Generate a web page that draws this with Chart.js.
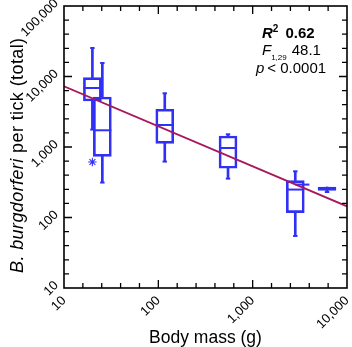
<!DOCTYPE html>
<html><head><meta charset="utf-8">
<script src="https://cdn.jsdelivr.net/npm/chart.js@4/dist/chart.umd.min.js"></script>
<style>html,body{margin:0;padding:0;background:#fff}</style>
</head><body>
<canvas id="c" width="352" height="347"></canvas>
<script>
// ---- data ----
const groupMass   = [20, 25.5, 117, 548, 2830, 6140];
const whiskerLow  = [1766, 313, 621, 356, 54.7, 230];
const q1          = [4490, 738, 1128, 499, 117, 243];
const median      = [6870, 1726, 2051, 968, 249, 257];
const q3          = [9640, 5120, 3427, 1432, 334, 271];
const whiskerHigh = [25350, 15540, 5780, 1514, 452, 271];
const outlierMass  = [20];
const outlierCount = [613];
const extraMass  = [3365];
const extraCount = [293];
const fitMass  = [10, 10000];
const fitCount = [7260, 144];
const xTickValues = [10, 100, 1000, 10000];
const xTickLabels = ['10', '100', '1,000', '10,000'];
const yTickValues = [10, 100, 1000, 10000, 100000];
const yTickLabels = ['10', '100', '1,000', '10,000', '100,000'];
const statR2 = '0.62', statF = '48.1', statDf = '1,29', statP = '< 0.0001';
const xTitle = 'Body mass (g)';
const yTitleItalic = 'B. burgdorferi', yTitleRest = ' per tick (total)';

// ---- styles ----
const BLUE = '#3030f6';
const FITC = '#a8185c';
const FONT = "'Liberation Sans', Arial, Helvetica, sans-serif";

const boxData = groupMass.map((m, i) => ({x: m, y: [q1[i], q3[i]]}));
const lowData = groupMass.map((m, i) => ({x: m, y: [whiskerLow[i], q1[i]]}));
const highData = groupMass.map((m, i) => ({x: m, y: [q3[i], whiskerHigh[i]]}));
const medData = groupMass.map((m, i) => ({x: m, y: median[i]}));
const capData = [];
groupMass.forEach((m, i) => {
  if (whiskerLow[i] < q1[i]) capData.push({x: m, y: whiskerLow[i]});
  if (whiskerHigh[i] > q3[i]) capData.push({x: m, y: whiskerHigh[i]});
});

const framePlugin = {
  id: 'frame',
  afterDatasetsDraw(chart) {
    const {ctx, chartArea: a, scales: {x, y}} = chart;
    ctx.save();
    ctx.strokeStyle = '#000';
    ctx.lineWidth = 1.3;
    ctx.beginPath();
    for (let e = 1; e < 4; e++) for (let j = 0; j < 5; j++) {
      if (e === 1 && j === 0) continue;
      const px = x.getPixelForValue(Math.pow(10, e + j / 5));
      const L = j === 0 ? 8 : 5;
      ctx.moveTo(px, a.bottom); ctx.lineTo(px, a.bottom - L);
      ctx.moveTo(px, a.top); ctx.lineTo(px, a.top + L);
    }
    for (let e = 1; e < 5; e++) for (let j = 0; j < 5; j++) {
      if (e === 1 && j === 0) continue;
      const py = y.getPixelForValue(Math.pow(10, e + j / 5));
      const L = j === 0 ? 8 : 5;
      ctx.moveTo(a.left, py); ctx.lineTo(a.left + L, py);
      ctx.moveTo(a.right, py); ctx.lineTo(a.right - L, py);
    }
    ctx.stroke();
    ctx.lineWidth = 1.6;
    ctx.strokeRect(a.left, a.top, a.right - a.left, a.bottom - a.top);
    ctx.restore();
  },
  afterDraw(chart) {
    const {ctx, chartArea: a} = chart;
    ctx.save();
    ctx.fillStyle = '#000';
    ctx.textBaseline = 'alphabetic';
    // x title
    ctx.font = '17.5px ' + FONT;
    ctx.textAlign = 'center';
    ctx.fillText(xTitle, (a.left + a.right) / 2, 343);
    // y title
    ctx.save();
    ctx.translate(22.5, 273);
    ctx.rotate(-Math.PI / 2);
    ctx.textAlign = 'left';
    ctx.letterSpacing = '0.4px';
    ctx.font = 'italic 18px ' + FONT;
    ctx.fillText(yTitleItalic, 0, 0);
    const w1 = ctx.measureText(yTitleItalic).width;
    ctx.font = '18px ' + FONT;
    ctx.fillText(yTitleRest, w1, 0);
    ctx.restore();
    // stats
    ctx.letterSpacing = '0px';
    ctx.textAlign = 'left';
    let xx = 262;
    ctx.font = 'italic bold 15px ' + FONT;
    ctx.fillText('R', xx, 37.5);
    xx += ctx.measureText('R').width;
    ctx.font = 'bold 10px ' + FONT;
    ctx.fillText('2', xx, 32);
    xx += ctx.measureText('2').width + 7;
    ctx.font = 'bold 15px ' + FONT;
    ctx.fillText(statR2, xx, 37.5);
    xx = 262;
    ctx.font = 'italic 15px ' + FONT;
    ctx.fillText('F', xx, 55);
    xx += ctx.measureText('F').width;
    ctx.font = '8px ' + FONT;
    ctx.fillText(statDf, xx, 60);
    xx += ctx.measureText(statDf).width + 5;
    ctx.font = '15px ' + FONT;
    ctx.fillText(statF, xx, 55);
    xx = 256;
    ctx.font = 'italic 15px ' + FONT;
    ctx.fillText('p', xx, 73);
    xx += ctx.measureText('p').width + 3;
    ctx.font = '15px ' + FONT;
    ctx.fillText(statP, xx, 73);
    ctx.restore();
  }
};

const tickFont = {family: FONT, size: 13};

new Chart(document.getElementById('c'), {
  type: 'bar',
  data: {
    datasets: [
      {type: 'line', data: fitMass.map((m, i) => ({x: m, y: fitCount[i]})), borderColor: FITC, borderWidth: 1.8, pointRadius: 0, tension: 0, fill: false, order: 0},
      {type: 'bar', data: boxData, stack: 's', barThickness: 18, borderWidth: 2, borderColor: BLUE, backgroundColor: 'rgba(0,0,0,0)', borderSkipped: false, order: 1},
      {type: 'bar', data: lowData, stack: 's', barThickness: 2, borderWidth: 0, backgroundColor: BLUE, order: 1},
      {type: 'bar', data: highData, stack: 's', barThickness: 2, borderWidth: 0, backgroundColor: BLUE, order: 1},
      {type: 'scatter', data: medData, pointStyle: 'line', radius: 9, borderWidth: 2, borderColor: BLUE, order: 1},
      {type: 'scatter', data: capData, pointStyle: 'line', radius: 2.2, borderWidth: 2, borderColor: BLUE, order: 1},
      {type: 'scatter', data: outlierMass.map((m, i) => ({x: m, y: outlierCount[i]})), pointStyle: 'star', radius: 4.2, borderWidth: 1.1, borderColor: BLUE, order: 1},
      {type: 'scatter', data: extraMass.map((m, i) => ({x: m, y: extraCount[i]})), pointStyle: 'line', radius: 7, borderWidth: 2, borderColor: BLUE, order: 1}
    ]
  },
  options: {
    responsive: false,
    devicePixelRatio: 1,
    animation: false,
    layout: {autoPadding: false, padding: {top: 6, right: 5, left: 0, bottom: 0}},
    plugins: {legend: {display: false}, tooltip: {enabled: false}},
    scales: {
      x: {
        type: 'logarithmic', min: 10, max: 10000, offset: false, position: 'bottom',
        grid: {display: false, drawTicks: false}, border: {display: false},
        afterBuildTicks: s => { s.ticks = xTickValues.map(v => ({value: v})); },
        afterFit: s => { s.height = 59; s.paddingLeft = 0; s.paddingRight = 0; },
        ticks: {autoSkip: false, minRotation: 45, maxRotation: 45, padding: 5, color: '#000', font: tickFont,
          callback: (v, i) => xTickLabels[i]}
      },
      y: {
        type: 'logarithmic', min: 10, max: 100000, stacked: false,
        grid: {display: false, drawTicks: false}, border: {display: false},
        afterBuildTicks: s => { s.ticks = yTickValues.map(v => ({value: v})); },
        afterFit: s => { s.width = 64; s.paddingTop = 0; s.paddingBottom = 0; },
        ticks: {autoSkip: false, minRotation: 45, maxRotation: 45, padding: 3, align: 'end', color: '#000', font: tickFont,
          callback: (v, i) => yTickLabels[i]}
      }
    }
  },
  plugins: [framePlugin]
});
</script>
</body></html>
